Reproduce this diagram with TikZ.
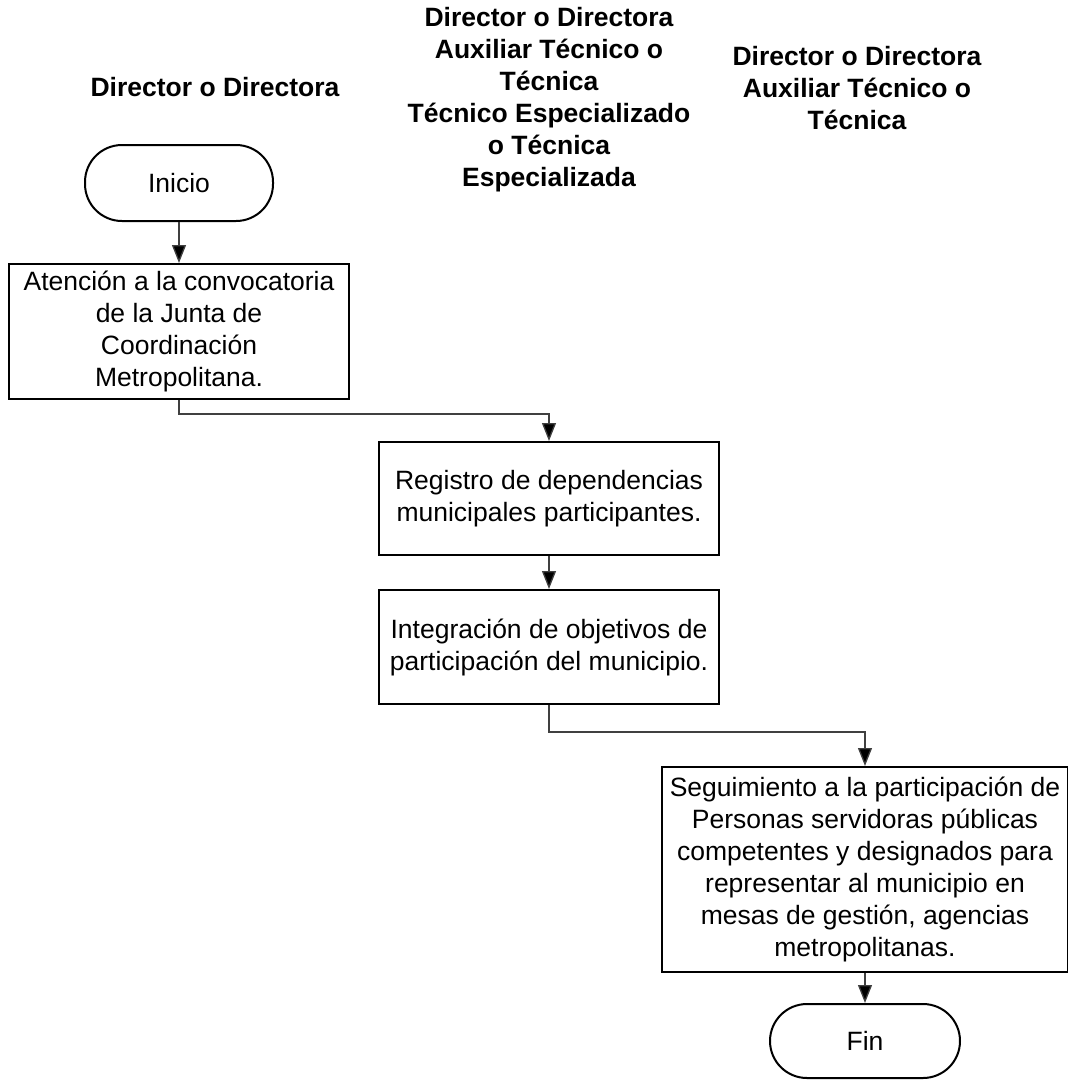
\documentclass[tikz,border=0pt]{standalone}
\usepackage{fontspec}
\setmainfont{Liberation Sans}
\usetikzlibrary{arrows.meta}
\tikzset{
  txt/.style={font=\fontsize{26.5}{32}\selectfont, align=center, inner sep=0pt},
  hdr/.style={txt, font=\fontsize{26.5}{32}\selectfont\bfseries},
  procbox/.style={txt, draw=black, line width=2pt},
  termbox/.style={txt, draw=black, line width=2pt, rounded corners=37pt},
  conn/.style={draw=black!75, line width=1.3pt, -{Triangle[length=18pt,width=14pt,fill=black]}}
}
\begin{document}
\begin{tikzpicture}[x=1pt,y=-1pt]
\useasboundingbox (0,0) rectangle (1068,1080);
% headers
\node[hdr] (h1) at (215,87) {Director o Directora};
\node[hdr] (h2) at (549,100) {Director o Directora\\Auxiliar Técnico o\\Técnica\\Técnico Especializado\\o Técnica\\Especializada};
\node[hdr] (h3) at (857,88) {Director o Directora\\Auxiliar Técnico o\\Técnica};
% nodes
\node[termbox, minimum width=188pt, minimum height=76pt] (inicio) at (179,183) {Inicio};
\node[procbox, minimum width=340pt, minimum height=135pt] (b1) at (179,331.5)
  {Atención a la convocatoria\\de la Junta de\\Coordinación\\Metropolitana.};
\node[procbox, minimum width=340pt, minimum height=113pt] (b2) at (549,498.5)
  {Registro de dependencias\\municipales participantes.};
\node[procbox, minimum width=340pt, minimum height=114pt] (b3) at (549,647)
  {Integración de objetivos de\\participación del municipio.};
\node[procbox, minimum width=406pt, minimum height=205pt] (b4) at (865,869.5)
  {Seguimiento a la participación de\\Personas servidoras públicas\\competentes y designados para\\representar al municipio en\\mesas de gestión, agencias\\metropolitanas.};
\node[termbox, minimum width=190pt, minimum height=74pt] (fin) at (865,1041) {Fin};
% connectors
\coordinate (j1) at (179,414);
\coordinate (j2) at (549,732);
\draw[conn] (inicio.south) -- (b1.north);
\draw[conn] (b1.south) -- (j1) -| (b2.north);
\draw[conn] (b2.south) -- (b3.north);
\draw[conn] (b3.south) -- (j2) -| (b4.north);
\draw[conn] (b4.south) -- (fin.north);
\end{tikzpicture}
\end{document}
